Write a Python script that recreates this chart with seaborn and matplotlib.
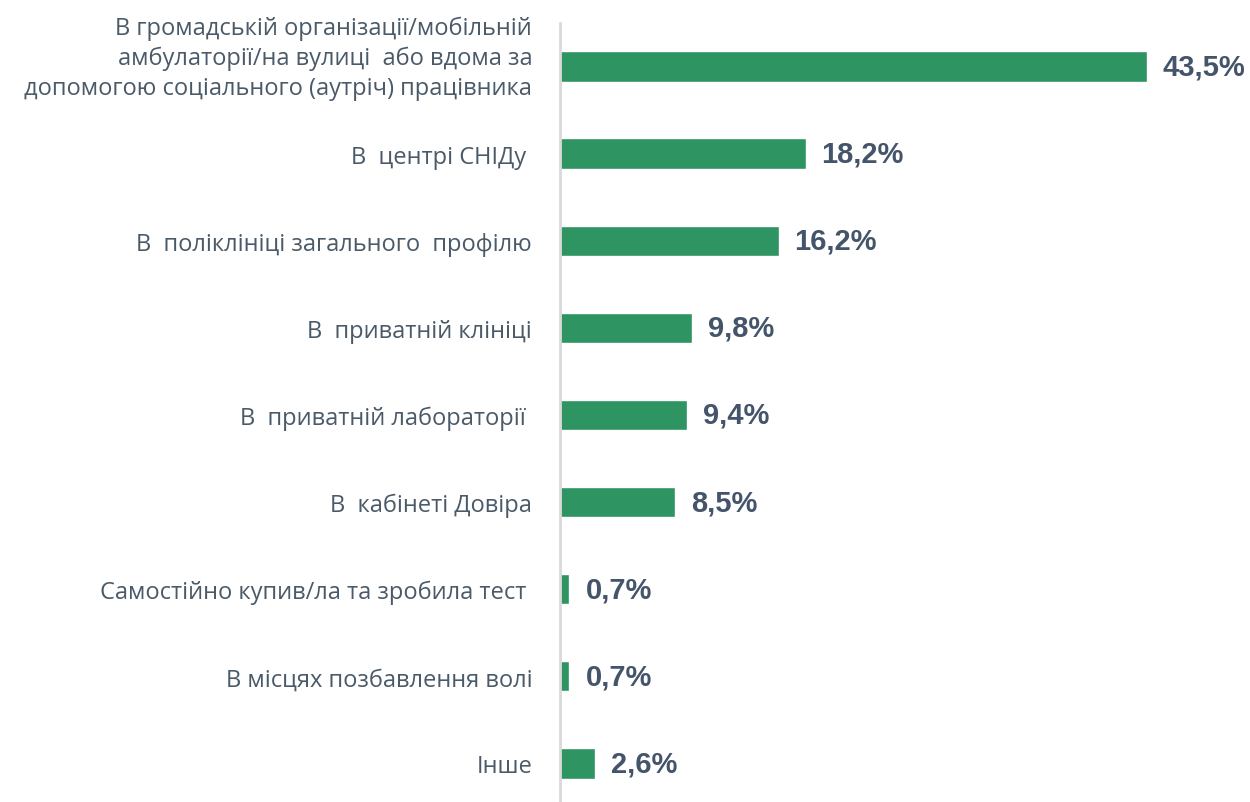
import matplotlib
matplotlib.use("Agg")
import matplotlib.pyplot as plt
import seaborn as sns
import pandas as pd

categories = [
    "В громадській організації/мобільній\nамбулаторії/на вулиці  або вдома за\nдопомогою соціального (аутріч) працівника\n",
    "В  центрі СНІДу ",
    "В  поліклініці загального  профілю",
    "В  приватній клініці",
    "В  приватній лабораторії ",
    "В  кабінеті Довіра",
    "Самостійно купив/ла та зробила тест ",
    "В місцях позбавлення волі",
    "Інше",
]
values = [43.5, 18.2, 16.2, 9.8, 9.4, 8.5, 0.7, 0.7, 2.6]
value_labels = ["43,5%", "18,2%", "16,2%", "9,8%", "9,4%", "8,5%", "0,7%", "0,7%", "2,6%"]

df = pd.DataFrame({"category": categories, "value": values})

sns.set_theme(style="white")
plt.rcParams["font.family"] = ["Open Sans", "DejaVu Sans"]

fig = plt.figure(figsize=(12.5, 8.03), dpi=100)
ax = fig.add_axes([0.448, -0.006, 0.5397, 0.976])

sns.barplot(data=df, x="value", y="category", orient="h", color="#2E9461",
            saturation=1, width=0.35, ax=ax)

ax.set_xlim(0, 50)
ax.set_ylim(8.5, -0.5)
ax.set_xlabel("")
ax.set_ylabel("")
ax.set_xticks([])
for s in ["top", "right", "bottom"]:
    ax.spines[s].set_visible(False)
ax.spines["left"].set_color("#D9D9D9")
ax.spines["left"].set_linewidth(2)
ax.tick_params(axis="y", length=0, pad=20, labelsize=17, labelcolor="#4A5A68")
for t in ax.get_yticklabels():
    t.set_horizontalalignment("right")
    t.set_multialignment("right")
    t.set_linespacing(1.32)

for i, (v, lab) in enumerate(zip(values, value_labels)):
    ax.annotate(lab, xy=(v, i), xytext=(11.5, 0), textcoords="offset points",
                ha="left", va="center", fontsize=21, fontweight="bold",
                color="#44546A", family="Liberation Sans", annotation_clip=False)

fig.savefig("out.png", dpi=100)
